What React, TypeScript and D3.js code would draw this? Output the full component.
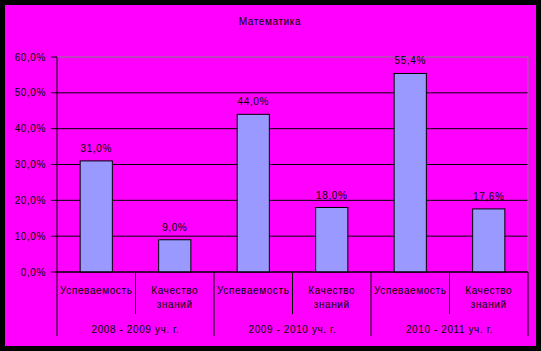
import * as d3 from 'd3';

const categories = ['Успеваемость', 'Качество знаний', 'Успеваемость', 'Качество знаний', 'Успеваемость', 'Качество знаний'];
const values = [31.0, 9.0, 44.0, 18.0, 55.4, 17.6];
const groups = ['2008 - 2009 уч. г.', '2009 - 2010 уч. г.', '2010 - 2011 уч. г.'];
const yTicks = [0, 10, 20, 30, 40, 50, 60];

const W = 541;
const H = 351;
const left = 57;
const right = 528;
const top = 57;
const bottom = 272;
const font = 'Arial, "Liberation Sans", sans-serif';
const ls = 0.6;

export default function App() {
  const x = d3.scaleBand<number>()
    .domain(d3.range(categories.length))
    .range([left, right])
    .paddingInner(0.59)
    .paddingOuter(0.295);
  const band = (right - left) / categories.length;
  const y = d3.scaleLinear().domain([0, 60]).range([bottom, top]);
  const fmt = (v: number) => v.toFixed(1).replace('.', ',') + '%';

  return (
    <svg width={W} height={H} style={{ position: 'absolute', left: 0, top: 0 }}>
      <rect x={0} y={0} width={W} height={H} fill="#000" />
      <rect x={5} y={5} width={531} height={341} fill="#FF00FF" />
      <text x={270} y={25} textAnchor="middle" fontFamily={font} fontSize={10} letterSpacing={ls} fill="#000">Математика</text>

      {/* gridlines */}
      {yTicks.map(t => (
        <g key={t}>
          <line x1={left - 6} x2={t === 60 ? left : right} y1={y(t)} y2={y(t)} stroke="#000" />
          <text x={46} y={y(t) + 3.5} textAnchor="end" fontFamily={font} fontSize={10} letterSpacing={ls} fill="#000">{fmt(t)}</text>
        </g>
      ))}
      <line x1={left} x2={right} y1={top} y2={top} stroke="#808080" />
      <line x1={right} x2={right} y1={top} y2={bottom} stroke="#808080" />

      {/* bars */}
      {values.map((v, i) => (
        <g key={i}>
          <rect x={x(i)!} y={y(v)} width={x.bandwidth()} height={bottom - y(v)} fill="#9999FF" stroke="#000" />
          <text x={x(i)! + x.bandwidth() / 2} y={y(v) - 9} textAnchor="middle" fontFamily={font} fontSize={10} letterSpacing={ls} fill="#000">{fmt(v)}</text>
        </g>
      ))}

      {/* axes */}
      <line x1={left} x2={left} y1={top} y2={336} stroke="#000" />
      <line x1={left} x2={right} y1={bottom} y2={bottom} stroke="#000" />
      {categories.map((c, i) => {
        const cx = left + band * (i + 0.5);
        const xr = left + band * (i + 1);
        const words = c.split(' ');
        return (
          <g key={i}>
            <line x1={xr} x2={xr} y1={bottom} y2={i % 2 === 1 ? 336 : 314} stroke="#000" />
            {words.map((w, j) => (
              <text key={j} x={cx} y={294 + j * 14} textAnchor="middle" fontFamily={font} fontSize={10} letterSpacing={ls} fill="#000">{w}</text>
            ))}
          </g>
        );
      })}
      {groups.map((g, i) => (
        <text key={i} x={left + band * (2 * i + 1)} y={333} textAnchor="middle" fontFamily={font} fontSize={10} letterSpacing={ls} fill="#000">{g}</text>
      ))}
    </svg>
  );
}
